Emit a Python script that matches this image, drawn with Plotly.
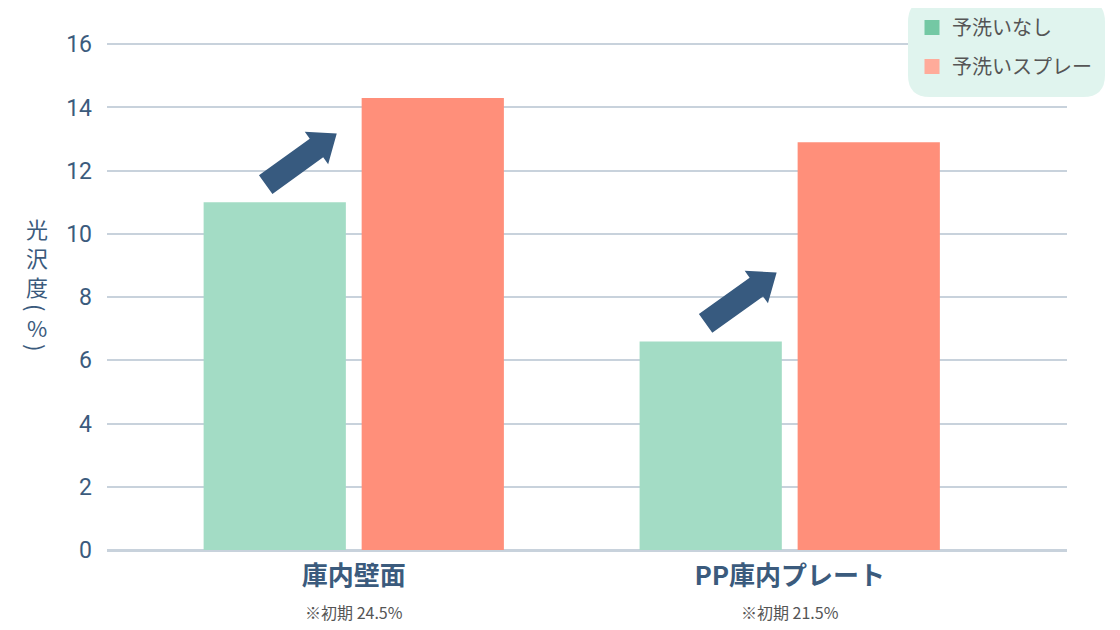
import math
import plotly.graph_objects as go

# data
categories = ["庫内壁面", "PP庫内プレート"]
initial_notes = ["※初期 24.5%", "※初期 21.5%"]
no_prewash = [11.0, 6.6]
prewash_spray = [14.3, 12.9]
series_names = ["予洗いなし", "予洗いスプレー"]
y_ticks = [0, 2, 4, 6, 8, 10, 12, 14, 16]
# y title written top-to-bottom; parentheses are turned sideways
y_title_chars = [("光", 0), ("沢", 0), ("度", 0), ("(", 90), ("%", 0), (")", 90)]

# colours
BAR_GREEN = "#a3dcc5"
BAR_RED = "#ff8f7a"
LEG_GREEN = "#74c8a4"
LEG_RED = "#ffab9a"
NAVY = "#3b5b7d"
ARROW = "#375a7f"
GRID = "#c8d2dc"

# page shows the figure shifted by the body margin, compensate
SHIFT = 8
W, H = 1120, 630
X_RANGE = [-0.566, 1.636]
Y_RANGE = [0, 16.04]  # a hair over 16 so the top gridline is drawn
PW = 960
PH = round(506 * Y_RANGE[1] / 16)
ML = 107 - SHIFT
MT = 550 - PH - SHIFT
MR, MB = W - ML - PW, H - MT - PH


def px_to_paper(px, py):
    # px, py measured in the reference picture
    return (px - SHIFT - ML) / PW, (MT + PH - (py - SHIFT)) / PH


def arrow_polygon(x0, y0, x1, y1, shaft=23, head_w=40, head_l=25):
    # block arrow in pixel space, returned in data coordinates
    sx = PW / (X_RANGE[1] - X_RANGE[0])
    sy = PH / (Y_RANGE[1] - Y_RANGE[0])
    X0, Y0, X1, Y1 = x0 * sx, y0 * sy, x1 * sx, y1 * sy
    L = math.hypot(X1 - X0, Y1 - Y0)
    dx, dy = (X1 - X0) / L, (Y1 - Y0) / L
    nx, ny = -dy, dx
    bx, by = X1 - dx * head_l, Y1 - dy * head_l
    pts = [
        (X0 + nx * shaft / 2, Y0 + ny * shaft / 2),
        (bx + nx * shaft / 2, by + ny * shaft / 2),
        (bx + nx * head_w / 2, by + ny * head_w / 2),
        (X1, Y1),
        (bx - nx * head_w / 2, by - ny * head_w / 2),
        (bx - nx * shaft / 2, by - ny * shaft / 2),
        (X0 - nx * shaft / 2, Y0 - ny * shaft / 2),
        (X0 + nx * shaft / 2, Y0 + ny * shaft / 2),
    ]
    return [p[0] / sx for p in pts], [p[1] / sy for p in pts]


fig = go.Figure()
fig.add_trace(go.Bar(x=[0, 1], y=no_prewash, marker_color=BAR_GREEN,
                     marker_line_width=0, showlegend=False, hoverinfo="skip"))
fig.add_trace(go.Bar(x=[0, 1], y=prewash_spray, marker_color=BAR_RED,
                     marker_line_width=0, showlegend=False, hoverinfo="skip"))

# arrows from green bar toward red bar (offsets relative to category / green value)
arrow_offsets = [(-0.202, 0.56, -0.039, 2.18), (-0.193, 0.57, -0.030, 2.18)]
for i, (dx0, dy0, dx1, dy1) in enumerate(arrow_offsets):
    ax_, ay_ = arrow_polygon(i + dx0, no_prewash[i] + dy0, i + dx1, no_prewash[i] + dy1)
    fig.add_trace(go.Scatter(x=ax_, y=ay_, mode="lines", fill="toself",
                             fillcolor=ARROW, line=dict(width=0, color=ARROW),
                             showlegend=False, hoverinfo="skip"))

# legend entries (legend swatches use slightly different colours than the bars)
for name, col in zip(series_names, [LEG_GREEN, LEG_RED]):
    fig.add_trace(go.Scatter(x=[None], y=[None], mode="markers", name=name,
                             legendgroup=name,
                             marker=dict(symbol="square", size=15, color=col)))

# rounded legend background
x0, y0 = px_to_paper(908, 97)
x1, y1 = px_to_paper(1105, 0)
rx, ry = 22 / PW, 22 / PH
path = (f"M{x0+rx},{y1} L{x1-rx},{y1} Q{x1},{y1} {x1},{y1-ry} "
        f"L{x1},{y0+ry} Q{x1},{y0} {x1-rx},{y0} L{x0+rx},{y0} "
        f"Q{x0},{y0} {x0},{y0+ry} L{x0},{y1-ry} Q{x0},{y1} {x0+rx},{y1} Z")
fig.add_shape(type="path", path=path, xref="paper", yref="paper",
              fillcolor="#e0f4ee", line_width=0, layer="above")

# y-axis title, one character per line
title_y = [228, 257, 286, 307, 327, 347]
for (ch, ang), py in zip(y_title_chars, title_y):
    fig.add_annotation(
        text=ch, textangle=ang, xref="paper", yref="paper",
        x=px_to_paper(37, py)[0], y=px_to_paper(37, py)[1],
        xanchor="center", yanchor="middle",
        showarrow=False, font=dict(size=22, color=NAVY),
    )

tick_text = [
    f"<b>{c}</b><br><span style='font-size:16px;color:#555555'>{n}</span>"
    for c, n in zip(categories, initial_notes)
]

lx, ly = px_to_paper(912, SHIFT)
fig.update_layout(
    width=W, height=H,
    margin=dict(l=ML, r=MR, t=MT, b=MB, autoexpand=False),
    paper_bgcolor="white", plot_bgcolor="white",
    font=dict(family="Noto Sans CJK JP", color=NAVY),
    barmode="group", bargap=0.275, bargroupgap=0.1,
    legend=dict(x=lx, y=ly, xanchor="left", yanchor="top",
                bgcolor="rgba(0,0,0,0)", tracegroupgap=10,
                font=dict(size=20, color="#555555", family="Noto Sans CJK JP")),
    xaxis=dict(
        range=X_RANGE, tickmode="array", tickvals=[0, 1],
        ticktext=tick_text, showgrid=False, zeroline=False, showline=False,
        tickfont=dict(size=26, color=NAVY, family="Noto Sans CJK JP"),
        ticks="", ticklabelstandoff=8,
    ),
    yaxis=dict(
        range=Y_RANGE, tickvals=y_ticks, showgrid=True, gridcolor=GRID,
        gridwidth=1.5, zeroline=True, zerolinecolor=GRID, zerolinewidth=2.5,
        tickfont=dict(size=23, color=NAVY, family="Roboto"),
        ticklabelstandoff=14,
    ),
)

fig.write_html("out.html")
